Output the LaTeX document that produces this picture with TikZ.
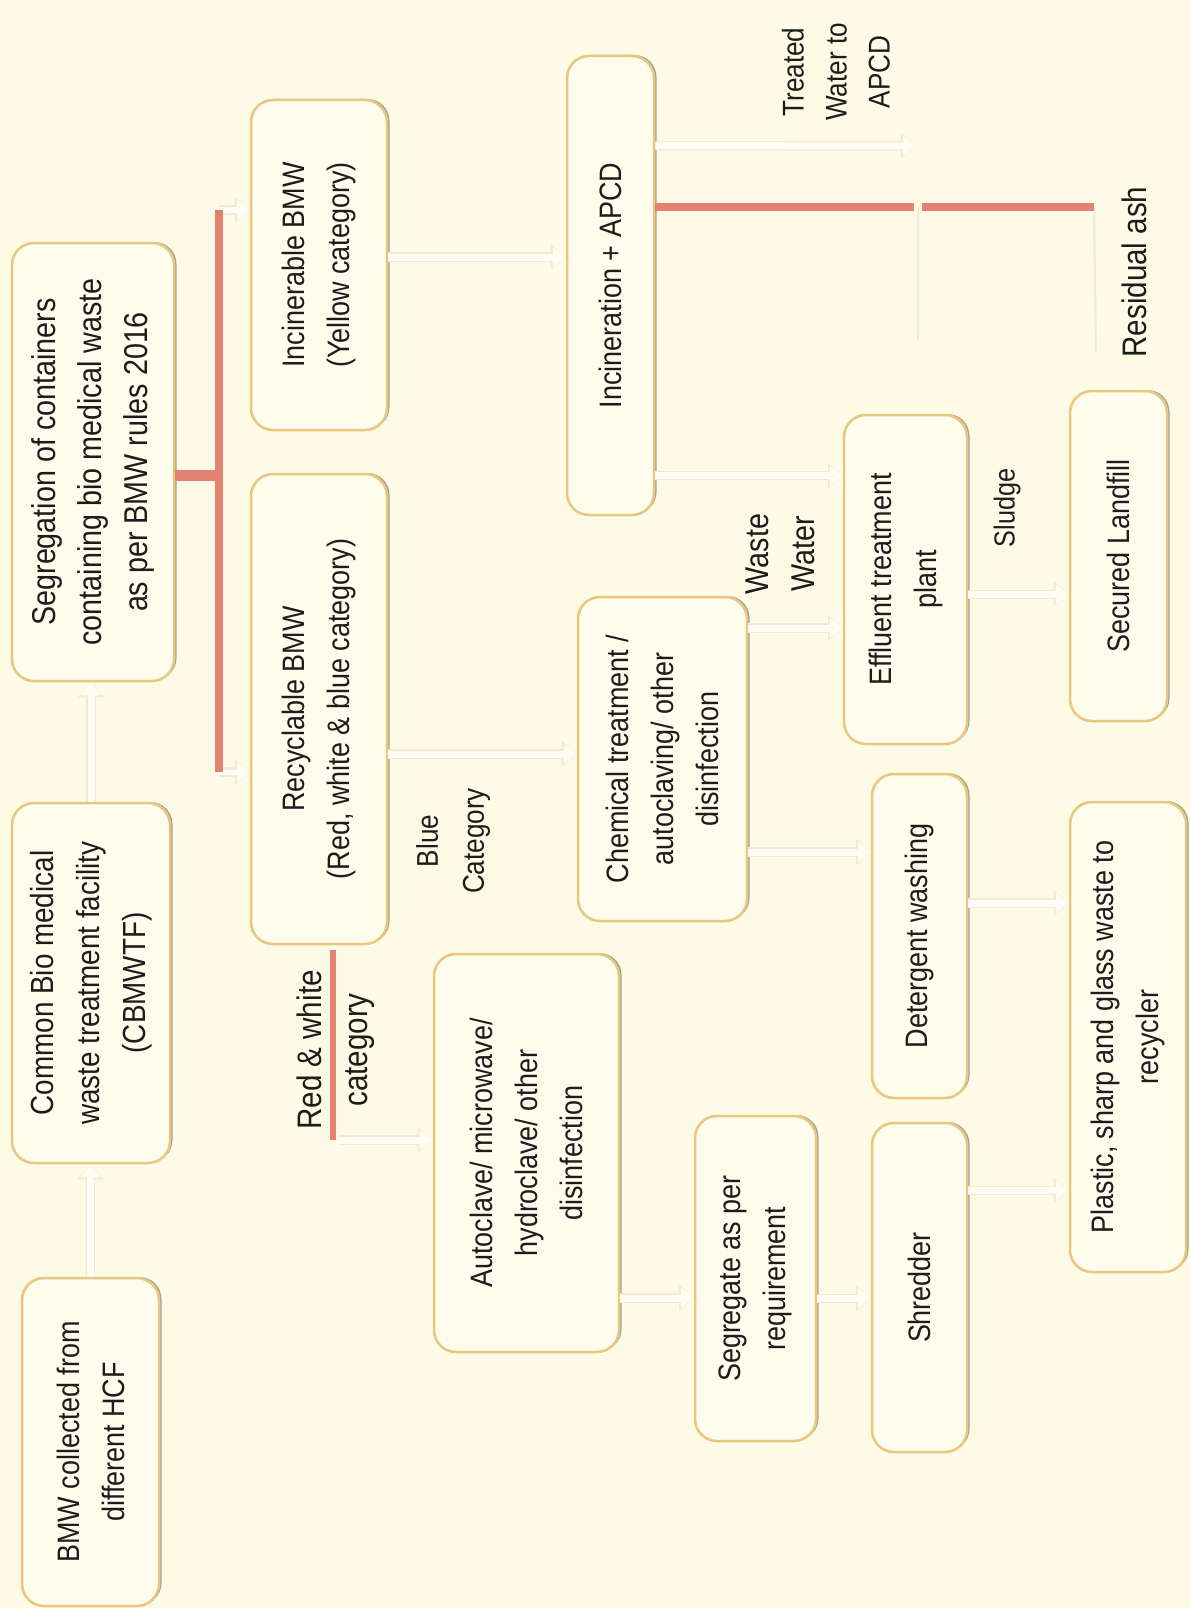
\documentclass[tikz,border=0pt]{standalone}
\usepackage{fontspec}
\setmainfont{Liberation Sans}[FakeStretch=0.87]
\usetikzlibrary{shadows,calc,arrows.meta}
\definecolor{bg}{RGB}{253,251,229}
\definecolor{boxfill}{RGB}{254,252,236}
\definecolor{boxedge}{RGB}{233,199,128}
\definecolor{shadowc}{RGB}{140,140,130}
\definecolor{redc}{RGB}{228,130,114}
\definecolor{faintedge}{RGB}{238,235,214}
\definecolor{faintfill}{RGB}{254,253,243}
\definecolor{textc}{RGB}{28,28,28}
\begin{document}
\begin{tikzpicture}[x=1pt,y=-1pt,
  box/.style={rotate=90, draw=boxedge, line width=2.5pt, fill=boxfill,
    rounded corners=22pt, align=center, text=textc, inner sep=0pt,
    font=\fontsize{31}{45}\selectfont,
    drop shadow={shadow xshift=2.5pt, shadow yshift=1pt, fill=shadowc, opacity=0.8}},
  lbl/.style={rotate=90, align=center, text=textc, inner sep=0pt},
  redline/.style={draw=redc, line width=8pt},
  farrow/.style={draw=faintfill, line width=7pt, -{Triangle[length=13pt,width=20pt]},
    preaction={draw=faintedge, line width=9.5pt, -{Triangle[length=15pt,width=25pt]}}},
  fline/.style={draw=faintedge, line width=2pt}
]
\fill[bg] (0,0) rectangle (1190,1608);
\useasboundingbox (0,0) rectangle (1190,1608);

% boxes
\node[box, minimum width=328pt, minimum height=137pt] (b1) at (90.5,1442) {BMW collected from\\different HCF};
\node[box, minimum width=360pt, minimum height=158pt, font=\fontsize{32}{46}\selectfont] (b2) at (91,983) {Common Bio medical\\waste treatment facility\\(CBMWTF)};
\node[box, minimum width=438pt, minimum height=162pt, font=\fontsize{33}{46}\selectfont] (b3) at (93,462) {Segregation of containers\\containing bio medical waste\\as per BMW rules 2016};
\node[box, minimum width=330pt, minimum height=136pt] (b4) at (319,265) {Incinerable BMW\\(Yellow category)};
\node[box, minimum width=470pt, minimum height=136pt] (b5) at (319,709) {Recyclable BMW\\(Red, white \& blue category)};
\node[box, minimum width=459pt, minimum height=87pt] (b6) at (610.5,285.5) {Incineration + APCD};
\node[box, minimum width=324pt, minimum height=169pt] (b7) at (662.5,759) {Chemical treatment /\\autoclaving/ other\\disinfection};
\node[box, minimum width=398pt, minimum height=185pt] (b8) at (526.5,1153) {Autoclave/ microwave/\\hydroclave/ other\\disinfection};
\node[box, minimum width=325pt, minimum height=121pt] (b9) at (755.5,1278.5) {Segregate as per\\requirement};
\node[box, minimum width=329pt, minimum height=123pt] (b10) at (905.5,579.5) {Effluent treatment\\plant};
\node[box, minimum width=324pt, minimum height=95pt] (b11) at (919.5,936) {Detergent washing};
\node[box, minimum width=329pt, minimum height=95pt] (b12) at (919.5,1287.5) {Shredder};
\node[box, minimum width=330pt, minimum height=97pt] (b13) at (1118.5,556) {Secured Landfill};
\node[box, minimum width=470pt, minimum height=116pt] (b14) at (1128,1037) {Plastic, sharp and glass waste to\\recycler};

% labels
\node[lbl, font=\fontsize{30}{43}\selectfont] (twl) at (836,72) {Treated\\Water to\\APCD};
\node[lbl, font=\fontsize{34}{46}\selectfont] (ash) at (1134,272) {Residual ash};
\node[lbl, font=\fontsize{33}{46}\selectfont] (ww) at (780,554) {Waste\\Water};
\node[lbl, font=\fontsize{29}{44}\selectfont] (sl) at (1007,508) {Sludge};
\node[lbl, font=\fontsize{30}{46}\selectfont] (blue) at (453,841) {Blue\\Category};
\node[lbl, font=\fontsize{34}{46}\selectfont] (rw) at (336,1050) {Red \& white\\category};

% coordinates
\coordinate (bartop) at (219,210);
\coordinate (barbot) at (219,772);
\coordinate (gapa) at (914,207);
\coordinate (gapb) at (922,207);
\coordinate (gapc) at (918,207);
\coordinate (gapd) at (918,340);
\coordinate (ashend) at (1094,207);
\coordinate (ashdown) at (1096,352);
\coordinate (twarr) at (916,146);
\coordinate (rwtop) at (333,950);
\coordinate (rwend) at (333,1140);
\coordinate (stub) at ($(b3.south)+(0,13)$);
\coordinate (s4) at ($(b4.south)+(0,-8)$);
\coordinate (s5) at ($(b5.south)+(0,45)$);
\coordinate (s6a) at ($(b6.south)+(0,-140)$);
\coordinate (s6b) at ($(b6.south)+(0,190)$);
\coordinate (s6r) at ($(b6.south)+(0,-78.5)$);
\coordinate (s7a) at ($(b7.south)+(0,-131)$);
\coordinate (s7b) at ($(b7.south)+(0,93)$);
\coordinate (s10) at ($(b10.south)+(0,15)$);
\coordinate (s11) at ($(b11.south)+(0,-33)$);
\coordinate (s12) at ($(b12.south)+(0,-97)$);
\coordinate (s8) at ($(b8.south)+(0,145)$);
\coordinate (s9) at ($(b9.south)+(0,20)$);
\coordinate (srw) at ($(rwend)+(6,0)$);

% faint arrows
\draw[farrow] (b1.east) -- (b1.east |- b2.west);
\draw[farrow] (b2.east) -- (b2.east |- b3.west);
\draw[farrow] (s4) -- (s4 -| b6.north);
\draw[farrow] (s5) -- (s5 -| b7.north);
\draw[farrow] (s6a) -- (twarr);
\draw[farrow] (s6b) -- (s6b -| b10.north);
\draw[farrow] (s7a) -- (s7a -| b10.north);
\draw[farrow] (s7b) -- (s7b -| b11.north);
\draw[farrow] (s10) -- (s10 -| b13.north);
\draw[farrow] (s11) -- (s11 -| b14.north);
\draw[farrow] (s12) -- (s12 -| b14.north);
\draw[farrow] (s8) -- (s8 -| b9.north);
\draw[farrow] (s9) -- (s9 -| b12.north);
\draw[farrow] (srw) -- (srw -| b8.north);
\draw[farrow, line width=5pt] (bartop) -- (bartop -| b4.north);
\draw[farrow, line width=5pt] (barbot) -- (barbot -| b5.north);
\draw[fline] (gapc) -- (gapd);
\draw[fline] (ashend) -- (ashdown);

% red lines
\draw[redline, line width=11pt] (stub) -- (stub -| bartop);
\draw[redline] (bartop) -- (barbot);
\draw[redline] (s6r) -- (gapa);
\draw[redline] (gapb) -- (ashend);
\draw[redline, line width=6pt] (rwtop) -- (rwend);
\end{tikzpicture}
\end{document}
